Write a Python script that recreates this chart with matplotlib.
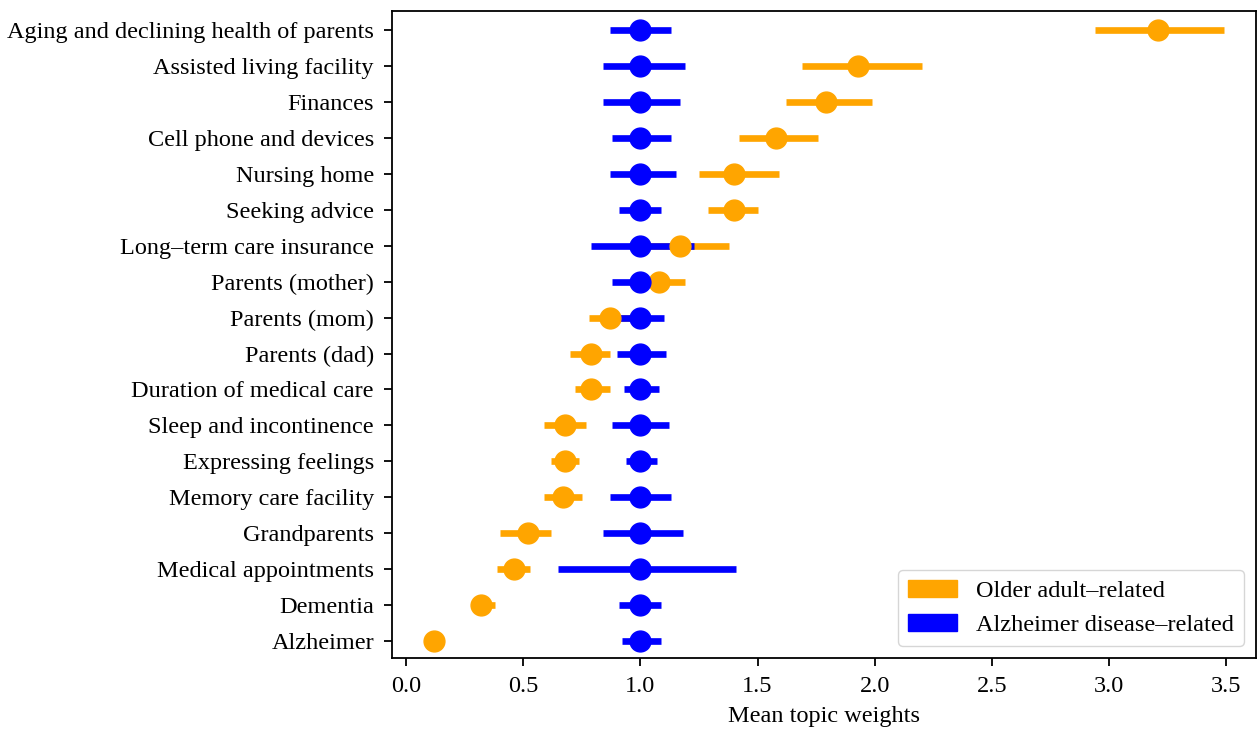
import matplotlib

matplotlib.use("Agg")
import matplotlib.pyplot as plt
import numpy as np
from matplotlib.patches import Patch

plt.rcParams["font.family"] = ["Liberation Serif", "DejaVu Serif"]

topics = [
    "Aging and declining health of parents",
    "Assisted living facility",
    "Finances",
    "Cell phone and devices",
    "Nursing home",
    "Seeking advice",
    "Long–term care insurance",
    "Parents (mother)",
    "Parents (mom)",
    "Parents (dad)",
    "Duration of medical care",
    "Sleep and incontinence",
    "Expressing feelings",
    "Memory care facility",
    "Grandparents",
    "Medical appointments",
    "Dementia",
    "Alzheimer",
]

# Older adult-related: mean and CI bounds
older_mean = [3.21, 1.93, 1.79, 1.58, 1.40, 1.40, 1.17, 1.08, 0.87, 0.79,
              0.79, 0.68, 0.68, 0.67, 0.52, 0.46, 0.32, 0.12]
older_lo = [2.94, 1.69, 1.62, 1.42, 1.25, 1.29, 0.96, 0.97, 0.78, 0.70,
            0.72, 0.59, 0.62, 0.59, 0.40, 0.39, 0.28, 0.10]
older_hi = [3.49, 2.20, 1.99, 1.76, 1.59, 1.50, 1.38, 1.19, 0.96, 0.87,
            0.87, 0.77, 0.74, 0.75, 0.62, 0.53, 0.38, 0.14]

# Alzheimer disease-related: mean and CI bounds
alz_mean = [1.0] * 18
alz_lo = [0.87, 0.84, 0.84, 0.88, 0.87, 0.91, 0.79, 0.88, 0.90, 0.90,
          0.93, 0.88, 0.94, 0.87, 0.84, 0.65, 0.91, 0.92]
alz_hi = [1.13, 1.19, 1.17, 1.13, 1.15, 1.09, 1.23, 1.12, 1.10, 1.11,
          1.08, 1.12, 1.07, 1.13, 1.18, 1.41, 1.09, 1.09]

FS = 17.5
y = np.arange(len(topics))

fig = plt.figure(figsize=(12.58, 7.31), dpi=100)
ax = fig.add_axes([0.3116, 0.0995, 0.6868, 0.8859])

for mean, lo, hi, color in [
    (older_mean, older_lo, older_hi, "orange"),
    (alz_mean, alz_lo, alz_hi, "blue"),
]:
    mean = np.array(mean)
    err = [mean - np.array(lo), np.array(hi) - mean]
    ax.errorbar(mean, y, xerr=err, fmt="o", color=color, ms=15,
                elinewidth=4.8, capsize=0)

ax.set_yticks(y)
ax.set_yticklabels(topics)
ax.set_ylim(len(topics) - 0.52, -0.54)
ax.set_xlim(-0.06, 3.627)
ax.set_xticks(np.arange(0, 3.51, 0.5))
ax.tick_params(labelsize=FS, length=6, width=1.3, pad=7)
for spine in ax.spines.values():
    spine.set_linewidth(1.3)
ax.set_xlabel("Mean topic weights", fontsize=FS, labelpad=6)

handles = [Patch(color="orange", label="Older adult–related"),
           Patch(color="blue", label="Alzheimer disease–related")]
ax.legend(handles=handles, loc="lower right", fontsize=FS)

fig.savefig("out.png", dpi=100)
